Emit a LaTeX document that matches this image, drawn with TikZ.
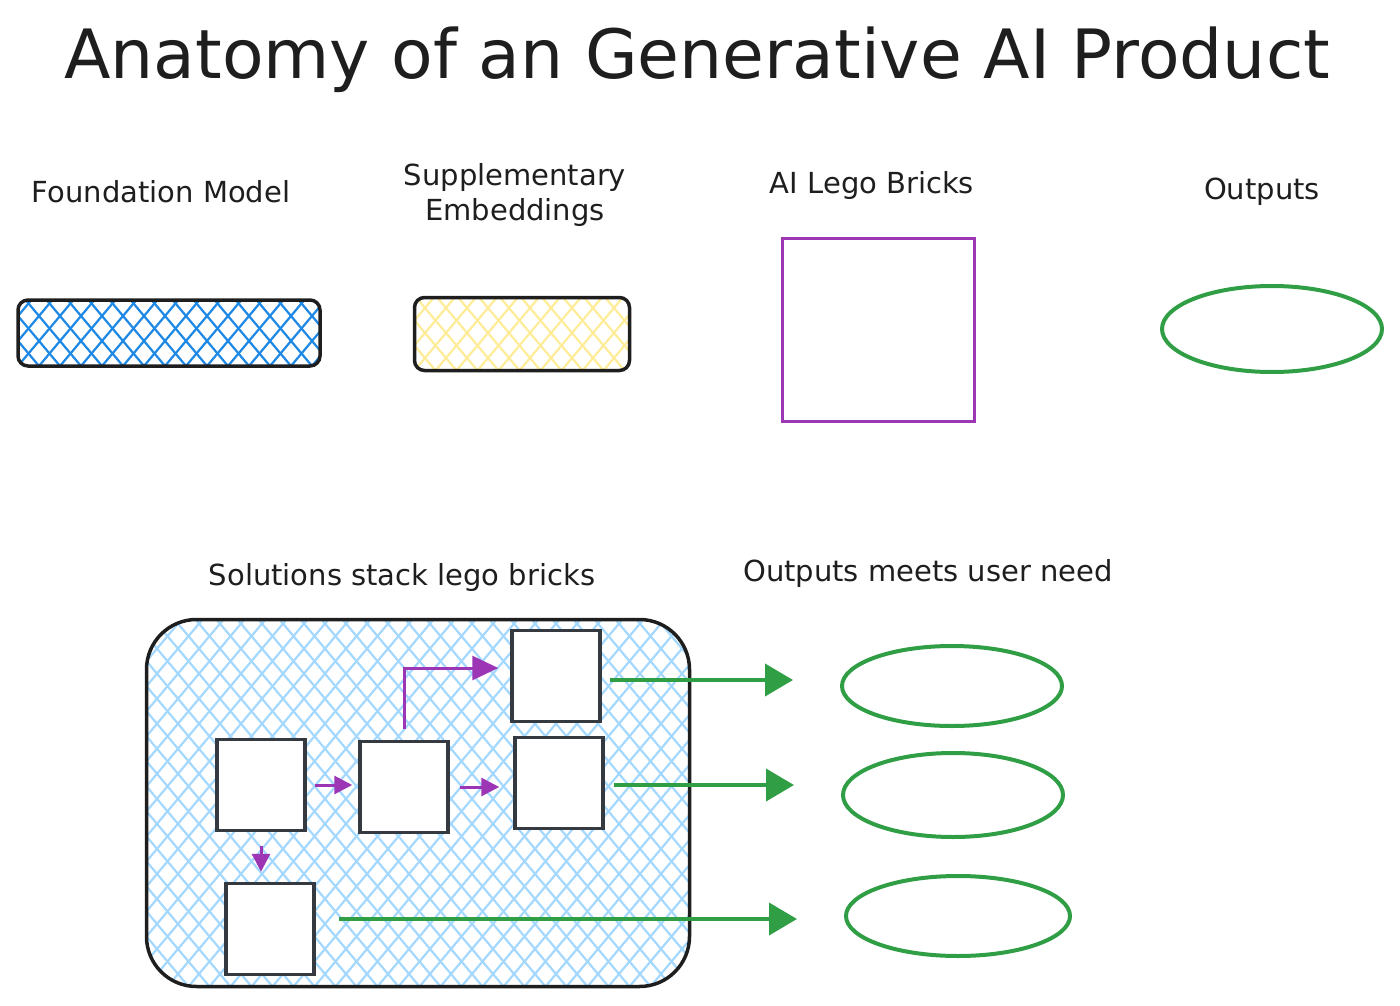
\documentclass[tikz,border=0pt]{standalone}
\usepackage{fontspec}
\setmainfont{DejaVu Sans}
\usetikzlibrary{arrows.meta,calc,shapes.geometric}
\definecolor{ink}{HTML}{1E1E1E}
\definecolor{hblue}{HTML}{1E88E5}
\definecolor{hyellow}{HTML}{FFEC99}
\definecolor{hlight}{HTML}{A5D8FF}
\definecolor{pur}{HTML}{9C36B5}
\definecolor{grn}{HTML}{2F9E44}
\definecolor{slate}{HTML}{343A40}
\tikzset{
  hatch/.style={path picture={
    \foreach \k in {-32,...,64}{
      \draw[#1,line width=2.2pt] ($(path picture bounding box.south west)+(\k*21pt,0)$) -- ++(50:1000pt);
      \draw[#1,line width=2.2pt] ($(path picture bounding box.south west)+(\k*21pt,0)$) -- ++(130:1000pt);
    }}},
  barbox/.style={draw=ink,line width=3.5pt,rounded corners=10pt,inner sep=0pt},
  brick/.style={draw=slate,fill=white,line width=3.5pt,minimum width=88pt,minimum height=91pt,inner sep=0pt},
  outell/.style={ellipse,draw=grn,line width=4pt,inner sep=0pt},
  lbl/.style={text=ink,font=\fontsize{29}{35}\selectfont,align=center},
  parrow/.style={draw=pur,line width=3pt,-{Triangle[length=18pt,width=18pt]}},
  garrow/.style={draw=grn,line width=4pt,-{Triangle[length=28pt,width=32pt]}}
}
\begin{document}
\begin{tikzpicture}[x=1pt,y=-1pt]
\useasboundingbox (0,0) rectangle (1400,1006);
\node[text=ink,font=\fontsize{68}{80}\selectfont] (title) at (697,60) {Anatomy of an Generative AI Product};
% top row labels
\node[lbl] (lfm) at (161,192) {Foundation Model};
\node[lbl] (lse) at (515,195) {Supplementary\\Embeddings};
\node[lbl] (llb) at (872,185) {AI Lego Bricks};
\node[lbl] (lout) at (1262,192) {Outputs};
% top row shapes
\node[barbox,hatch=hblue,minimum width=302pt,minimum height=66pt] (fm) at (169,333) {};
\node[barbox,hatch=hyellow,minimum width=215pt,minimum height=73pt] (se) at (522,334) {};
\node[draw=pur,line width=3pt,minimum width=192pt,minimum height=183pt,inner sep=0pt] (lb) at (878,330) {};
\node[outell,minimum width=220pt,minimum height=86pt] (out) at (1272,329) {};
% bottom labels
\node[lbl] (lss) at (402,577) {Solutions stack lego bricks};
\node[lbl] (lon) at (928,573) {Outputs meets user need};
% stack container
\node[draw=ink,line width=3.5pt,rounded corners=50pt,hatch=hlight,minimum width=543pt,minimum height=367pt,inner sep=0pt] (stack) at (418,803) {};
% bricks
\node[brick] (A) at (261,785) {};
\node[brick] (B) at (404,787) {};
\node[brick] (C) at (556,676) {};
\node[brick] (D) at (559,783) {};
\node[brick] (E) at (270,929) {};
% output ellipses
\node[outell,minimum width=220pt,minimum height=80pt] (o1) at (952,686) {};
\node[outell,minimum width=220pt,minimum height=84pt] (o2) at (953,795) {};
\node[outell,minimum width=224pt,minimum height=80pt] (o3) at (958,916) {};
% purple arrows
\draw[parrow,shorten <=8pt,shorten >=6pt] (A.east) -- (A.east -| B.west);
\draw[parrow,shorten <=10pt,shorten >=14pt] (B.east) -- (B.east -| D.west);
\draw[parrow,shorten <=14pt,shorten >=10pt] (A.south) -- (A.south |- E.north);
\draw[parrow,-{Triangle[length=26pt,width=24pt]}] ([yshift=11pt]B.north) |- ([xshift=-12pt,yshift=8pt]C.west);
% green arrows
\draw[garrow,shorten <=8pt,shorten >=47pt] ([yshift=-4pt]C.east) -- ([yshift=-4pt]C.east -| o1.west);
\draw[garrow,shorten <=9pt,shorten >=47pt] ([yshift=-2pt]D.east) -- ([yshift=-2pt]D.east -| o2.west);
\draw[garrow,shorten <=23pt,shorten >=47pt] ([yshift=10pt]E.east) -- ([yshift=10pt]E.east -| o3.west);
\end{tikzpicture}
\end{document}
